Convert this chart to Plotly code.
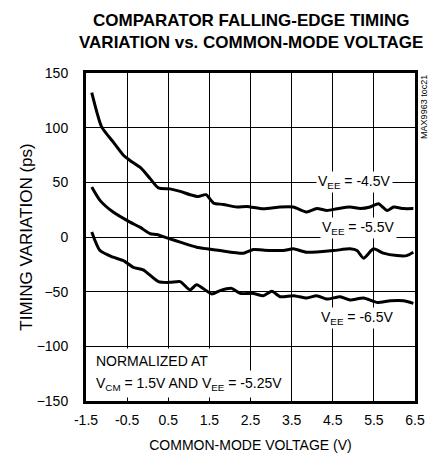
import plotly.graph_objects as go

# ---- data ----
x_a = [-1.36, -1.12, -0.84, -0.59, -0.43, -0.15, 0.06, 0.26, 0.54, 0.79, 1.03, 1.23, 1.42, 1.60,
       1.84, 2.17, 2.41, 2.81, 3.22, 3.54, 3.87, 4.11, 4.36, 4.60, 4.92, 5.17, 5.41, 5.61, 5.82,
       5.98, 6.22, 6.46]
y_a = [132, 100.7, 87, 74.8, 70, 62.6, 53.4, 45, 44, 41.7, 38.7, 37, 38.7, 31,
       29.8, 27.4, 28, 25.8, 27.4, 27.4, 22.8, 26, 24.3, 25.8, 27.4, 26, 27.4, 30.4, 24.3,
       27.4, 26, 26]

x_b = [-1.36, -1.16, -0.84, -0.43, -0.19, 0.06, 0.22, 0.54, 0.79, 1.19, 1.44, 1.76, 2.33, 2.57,
       2.81, 3.30, 3.54, 3.87, 4.52, 4.92, 5.09, 5.25, 5.49, 5.73, 6.06, 6.30, 6.46]
y_b = [45.7, 33.5, 22.8, 13.6, 9, 3, 2.3, -1.7, -4.7, -9.3, -10.8, -12.4, -14.8, -11.5,
       -12, -12.4, -10.8, -14, -12.4, -10.8, -12.4, -19.4, -10.8, -14.8, -17, -17, -14]

x_c = [-1.36, -1.16, -0.84, -0.59, -0.35, -0.11, 0.26, 0.54, 0.79, 1.03, 1.19, 1.56, 1.76, 2.04,
       2.25, 2.57, 2.81, 3.02, 3.22, 3.54, 3.87, 4.11, 4.36, 4.68, 4.92, 5.25, 5.57, 5.90, 6.22, 6.46]
y_c = [4.6, -12.4, -18.5, -21.6, -27.7, -30, -40.8, -41.5, -40.8, -48.4, -43.6, -52.1, -49, -47,
       -51.6, -51.6, -53.7, -49.7, -54.6, -53.7, -55.8, -53.7, -56.8, -54.6, -57.6, -55.8, -59.8,
       -58.3, -58.3, -60.7]

series_names = ["V<sub>EE</sub> = -4.5V", "V<sub>EE</sub> = -5.5V", "V<sub>EE</sub> = -6.5V"]
label_pos = [(5.04, 50), (5.12, 8), (5.10, -74)]

note_lines = ["NORMALIZED AT", "V<sub>CM</sub> = 1.5V AND V<sub>EE</sub> = -5.25V"]
note_y = [-113, -134]

x_ticks = [-1.5, -0.5, 0.5, 1.5, 2.5, 3.5, 4.5, 5.5, 6.5]
y_ticks = [-150, -100, -50, 0, 50, 100, 150]

FONT = "Liberation Sans, Arial, sans-serif"

fig = go.Figure()
for xs, ys, nm in zip([x_a, x_b, x_c], [y_a, y_b, y_c], series_names):
    fig.add_trace(go.Scatter(x=xs, y=ys, mode="lines", name=nm,
                             line=dict(color="black", width=3, shape="spline", smoothing=0.6),
                             showlegend=False))

for (lx, ly), nm in zip(label_pos, series_names):
    fig.add_annotation(x=lx, y=ly, text=nm, showarrow=False, bgcolor="white",
                       font=dict(family=FONT, size=14, color="black"), borderpad=1)

for ny, txt in zip(note_y, note_lines):
    fig.add_annotation(x=-1.5, y=ny, xref="x", yref="y", xanchor="left", yanchor="middle",
                       xshift=5, align="left", showarrow=False, bgcolor="white",
                       text=txt, font=dict(family=FONT, size=14, color="black"), borderpad=4)

fig.add_annotation(x=1.027, y=1.0, xref="paper", yref="paper", xanchor="center", yanchor="top",
                   textangle=-90, showarrow=False, text="MAX9963 toc21",
                   font=dict(family=FONT, size=9, color="black"))

fig.add_annotation(x=0.5, y=1, xref="paper", yref="paper", yanchor="middle", yshift=53,
                   showarrow=False, text="<b>COMPARATOR FALLING-EDGE TIMING</b>",
                   font=dict(family=FONT, size=17, color="black"))
fig.add_annotation(x=0.5, y=1, xref="paper", yref="paper", yanchor="middle", yshift=31,
                   showarrow=False, text="<b>VARIATION vs. COMMON-MODE VOLTAGE</b>",
                   font=dict(family=FONT, size=17, color="black"))

axis_common = dict(showgrid=True, gridcolor="black", gridwidth=1, zeroline=False,
                   showline=True, linecolor="black", linewidth=3, mirror=True, automargin=False,
                   ticks="", tickfont=dict(family=FONT, size=14, color="black"))

fig.update_xaxes(range=[-1.5, 6.5], tickvals=x_ticks, ticktext=[str(v) for v in x_ticks],
                 ticklabelstandoff=4,
                 title=dict(text="COMMON-MODE VOLTAGE (V)", font=dict(family=FONT, size=14, color="black"),
                            standoff=14),
                 **axis_common)
fig.update_yaxes(range=[-150, 150], tickvals=y_ticks, ticklabelstandoff=12,
                 title=dict(text="TIMING VARIATION (ps)", font=dict(family=FONT, size=17, color="black"),
                            standoff=0),
                 **axis_common)

fig.update_layout(width=436, height=458, margin=dict(l=86, r=21, t=73, b=57),
                  plot_bgcolor="white", paper_bgcolor="white")

fig.write_html("out.html", config={"displayModeBar": False},
               post_script="document.body.style.margin='0px';")
